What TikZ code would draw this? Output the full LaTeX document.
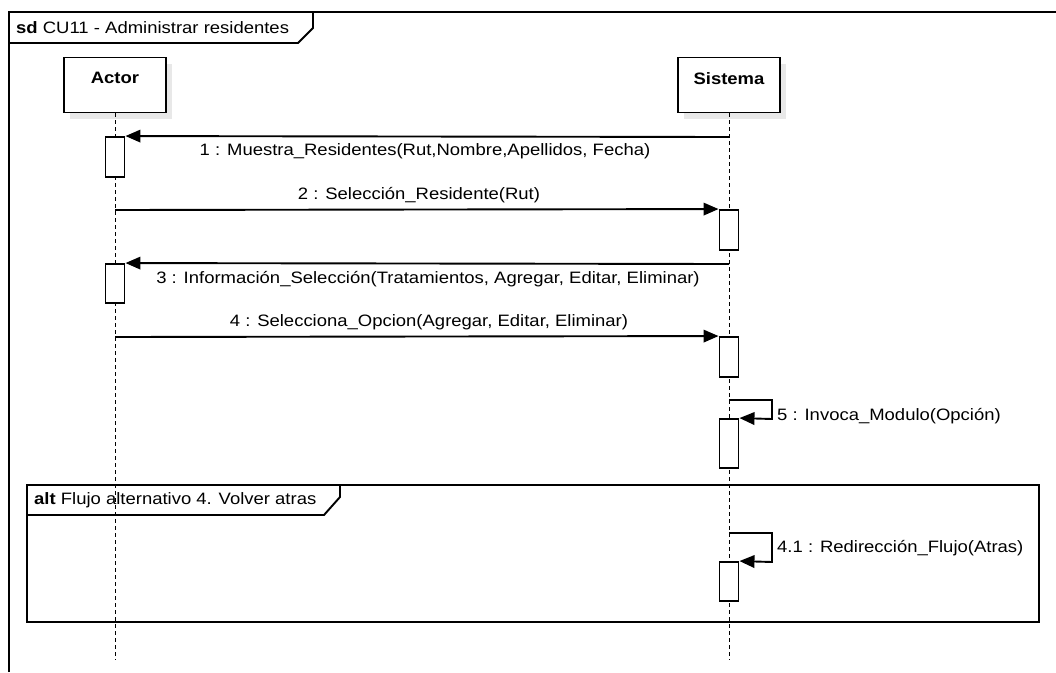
\documentclass[tikz,border=0pt]{standalone}
\usepackage{fontspec}
\setmainfont{Liberation Sans}[FakeStretch=1.12]
\usetikzlibrary{arrows.meta,shadows}
\begin{document}
\begin{tikzpicture}[x=1pt,y=-1pt,
  every node/.style={font=\fontsize{16.5}{19}\selectfont},
  frameline/.style={line width=1.9pt},
  headbox/.style={draw,line width=1.9pt,fill=white,minimum width=102pt,minimum height=55pt,inner sep=0pt,
     drop shadow={shadow xshift=6pt,shadow yshift=-6pt,fill=gray!18,opacity=1}},
  actbox/.style={draw,line width=1.9pt,fill=white,minimum width=19pt,inner sep=0pt},
  lifeline/.style={dash pattern=on 4pt off 3pt,line width=0.9pt},
  msg/.style={line width=1.9pt,-{Triangle[length=15pt,width=12.5pt]}},
  lbl/.style={inner sep=0pt}
]
\useasboundingbox (0,0) rectangle (1056,672);
% outer frame
\draw[frameline] (9,672) -- (9,12) -- (1058,12);
\draw[frameline] (9,43) -- (298,43) -- (313,28) -- (313,12);
\node[lbl,anchor=west] (title) at (16,28) {\textbf{sd} CU11 - Administrar residentes};

% lifeline heads
\node[headbox,label={[anchor=north,yshift=-12pt,font=\fontsize{16.5}{19}\selectfont\bfseries]north:Actor}] (actor) at (115,85) {};
\node[headbox,label={[anchor=north,yshift=-12pt,font=\fontsize{16.5}{19}\selectfont\bfseries]north:Sistema}] (sistema) at (729,85) {};

\coordinate (actend) at (115,660);
\coordinate (sisend) at (729,660);
\draw[lifeline] (actor.south) -- (actend);
\draw[lifeline] (sistema.south) -- (sisend);

% activation boxes
\node[actbox,minimum height=40pt] (a1) at (115,157) {};
\node[actbox,minimum height=40pt] (s1) at (729,230) {};
\node[actbox,minimum height=39pt] (a2) at (115,283.5) {};
\node[actbox,minimum height=40pt] (s2) at (729,357) {};
\node[actbox,minimum height=49pt] (s3) at (729,443.5) {};
\node[actbox,minimum height=39pt] (s4) at (729,581.5) {};

% message 1
\coordinate (m1) at (729,137);
\draw[msg] (m1) -- (a1.north east);
\node[lbl] (l1) at (425,151) {1 : Muestra\_Residentes(Rut,Nombre,Apellidos, Fecha)};
% message 2
\coordinate (m2) at (115,210);
\draw[msg] (m2) -- (s1.north west);
\node[lbl] (l2) at (419,195) {2 : Selección\_Residente(Rut)};
% message 3
\coordinate (m3) at (729,264);
\draw[msg] (m3) -- (a2.north east);
\node[lbl] (l3) at (428,279) {3 : Información\_Selección(Tratamientos, Agregar, Editar, Eliminar)};
% message 4
\coordinate (m4) at (115,337);
\draw[msg] (m4) -- (s2.north west);
\node[lbl] (l4) at (429,322) {4 : Selecciona\_Opcion(Agregar, Editar, Eliminar)};
% message 5 (self)
\coordinate (m5a) at (729,400);
\coordinate (m5b) at (772,400);
\coordinate (m5c) at (772,419);
\draw[msg] (m5a) -- (m5b) -- (m5c) -- (s3.north east);
\node[lbl,anchor=west] (l5) at (777,416) {5 : Invoca\_Modulo(Opción)};

% alt fragment
\draw[frameline] (27,485) rectangle (1039,622);
\draw[frameline] (27,515) -- (324,515) -- (340,497) -- (340,485);
\node[lbl,anchor=west] (alt) at (34,500) {\textbf{alt} Flujo alternativo 4. Volver atras};

% message 4.1 (self)
\coordinate (m6a) at (729,533);
\coordinate (m6b) at (772,533);
\coordinate (m6c) at (772,562);
\draw[msg] (m6a) -- (m6b) -- (m6c) -- (s4.north east);
\node[lbl,anchor=west] (l6) at (777,548) {4.1 : Redirección\_Flujo(Atras)};
\end{tikzpicture}
\end{document}
